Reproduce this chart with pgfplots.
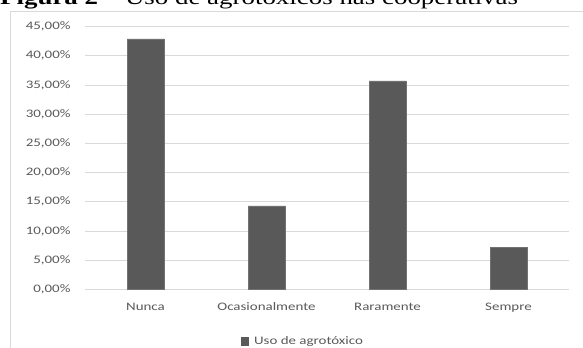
\documentclass[border=0pt]{standalone}
\usepackage{pgfplots}
\pgfplotsset{compat=1.18}
\usepackage{fontspec}
\setmainfont{Carlito}
\newfontfamily\titlefont{Liberation Serif}
\definecolor{barc}{HTML}{595959}
\definecolor{gridc}{HTML}{D9D9D9}
\definecolor{txtc}{HTML}{595959}
\newcommand{\sx}[1]{\scalebox{1.3}[1]{#1}}
\begin{document}
\begin{tikzpicture}[x=1bp,y=1bp]
\useasboundingbox (0,0) rectangle (583,347);
\clip (0,0) rectangle (583,347);
\draw[gridc, line width=0.8bp] (10.7,-5) |- (590,335.7);
\node[anchor=base west, inner sep=0] at (0,342.5) {\titlefont\fontsize{20.7bp}{24bp}\selectfont\sx{\textbf{Figura 2} – Uso de agrotóxicos nas cooperativas}};
\begin{axis}[
  at={(85bp,57.7bp)}, anchor=south west,
  scale only axis, width=484bp, height=262.8bp,
  ybar, bar width=37bp, bar shift=0pt,
  xmin=-0.5, xmax=3.5, ymin=0, ymax=45,
  axis lines*=left,
  x axis line style={-, gridc, line width=0.8bp},
  y axis line style={draw=none},
  ymajorgrids, grid style={gridc, line width=0.8bp},
  major tick length=0pt,
  xtick={0,1,2,3},
  xticklabels={\sx{Nunca},\sx{Ocasionalmente},\sx{Raramente},\sx{Sempre}},
  ytick={0,5,...,45},
  yticklabels={\sx{0,00\%},\sx{5,00\%},\sx{10,00\%},\sx{15,00\%},\sx{20,00\%},\sx{25,00\%},\sx{30,00\%},\sx{35,00\%},\sx{40,00\%},\sx{45,00\%}},
  ticklabel style={font=\fontsize{11.5bp}{13bp}\selectfont, text=txtc, inner sep=0pt},
  x tick label style={anchor=base, yshift=-21bp},
  y tick label style={anchor=east, xshift=-14.3bp},
  legend style={at={(0.45,-0.199)}, anchor=center, draw=none, fill=none,
    font=\fontsize{11.5bp}{13bp}\selectfont, text=txtc, inner sep=0pt},
  legend image code/.code={\fill[barc] (0bp,-3.5bp) rectangle (7.5bp,4bp);},
  legend cell align=left,
  clip=false,
]
\addplot[fill=barc, draw=barc!85!white] coordinates {(0,42.86) (1,14.29) (2,35.71) (3,7.14)};
\addlegendentry{\hspace{3.5bp}\sx{Uso de agrotóxico}}
\end{axis}
\end{tikzpicture}
\end{document}
